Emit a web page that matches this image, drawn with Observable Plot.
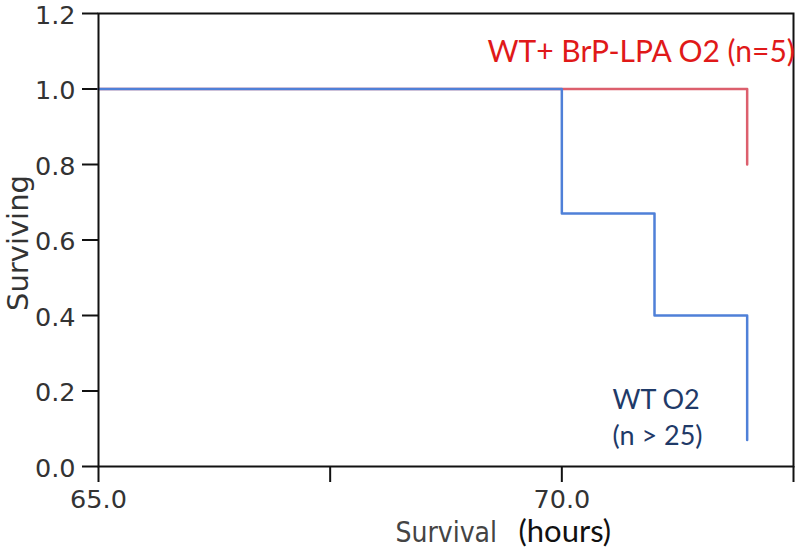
<!DOCTYPE html>
<html>
<head>
<meta charset="utf-8">
<script src="https://cdn.jsdelivr.net/npm/d3@7"></script>
<script src="https://cdn.jsdelivr.net/npm/@observablehq/plot@0.6"></script>
<style>
  html, body { margin: 0; padding: 0; background: #ffffff; }
  #chart svg { display: block; }
</style>
</head>
<body>
<div id="chart"></div>
<script>
// Survival curves (Kaplan-Meier style steps)
const wtTimes = [65, 70, 71, 72];
const wtSurv = [1.0, 0.67, 0.40, 0.07];
const lpaTimes = [65, 72];
const lpaSurv = [1.0, 0.80];

const xTicks = [65, 67.5, 70, 72.5];
const xTickLabels = ["65.0", "", "70.0", ""];
const yTicks = [0, 0.2, 0.4, 0.6, 0.8, 1.0, 1.2];

const wtData = wtTimes.map((t, i) => ({t, s: wtSurv[i]}));
const lpaData = lpaTimes.map((t, i) => ({t, s: lpaSurv[i]}));

const chart = Plot.plot({
  width: 799,
  height: 553,
  marginLeft: 98,
  marginRight: 6,
  marginTop: 13,
  marginBottom: 87,
  style: {background: "#ffffff", fontFamily: "DejaVu Sans", fontSize: "25px", color: "#333"},
  x: {domain: [65, 72.5], label: null},
  y: {domain: [0, 1.2], label: null},
  marks: [
    Plot.axisX({ticks: xTicks, tickFormat: d => xTickLabels[xTicks.indexOf(d)], tickSize: 16, tickPadding: 7, stroke: "#111", strokeWidth: 2, fill: "#333", fontSize: 25.5, label: null}),
    Plot.axisY({ticks: yTicks, tickFormat: null, text: null, tickSize: 16, stroke: "#111", strokeWidth: 2, label: null}),
    Plot.axisY({ticks: yTicks, tickFormat: d => d.toFixed(1), tickSize: 0, tickPadding: 23, dy: 2, fill: "#333", fontSize: 25.5, label: null}),
    Plot.line(lpaData, {x: "t", y: "s", curve: "step-after", stroke: "#dc5f6d", strokeWidth: 2.5}),
    Plot.line(wtData, {x: "t", y: "s", curve: "step-after", stroke: "#4f80d8", strokeWidth: 2.5}),
    Plot.frame({stroke: "#111", strokeWidth: 2}),
    Plot.text(["WT+ BrP-LPA O2 (n=5)"], {frameAnchor: "top-left", dx: 389, dy: 39, textAnchor: "start", lineAnchor: "middle", fill: "#e01919", fontSize: 30, fontFamily: "Lato"}),
    Plot.text(["WT O2"], {frameAnchor: "top-left", dx: 514, dy: 387, textAnchor: "start", lineAnchor: "middle", fill: "#1f3a68", fontSize: 27, fontFamily: "Lato"}),
    Plot.text(["(n > 25)"], {frameAnchor: "top-left", dx: 514, dy: 423, textAnchor: "start", lineAnchor: "middle", fill: "#1f3a68", fontSize: 27, fontFamily: "Lato"}),
    Plot.text(["Surviving"], {frameAnchor: "left", dx: -80, dy: 3, rotate: -90, textAnchor: "middle", lineAnchor: "middle", fill: "#333", fontSize: 29, fontFamily: "DejaVu Sans"}),
    Plot.text(["Survival"], {frameAnchor: "bottom-left", dx: 297, dy: 67, textAnchor: "start", lineAnchor: "middle", fill: "#444", fontSize: 28, fontFamily: "DejaVu Sans Condensed"}),
    Plot.text(["(hours)"], {frameAnchor: "bottom-left", dx: 420, dy: 66, textAnchor: "start", lineAnchor: "middle", fill: "#111", fontSize: 31, fontFamily: "Lato"})
  ]
});
document.getElementById("chart").appendChild(chart);
</script>
</body>
</html>
